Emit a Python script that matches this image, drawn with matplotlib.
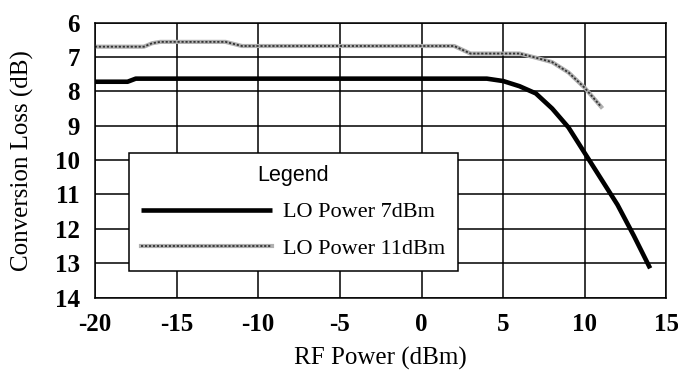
import matplotlib
matplotlib.use("Agg")
import matplotlib.pyplot as plt
from matplotlib.legend_handler import HandlerTuple

plt.rcParams["axes.unicode_minus"] = False

# Data
lo7_x = [-20, -18, -17.5, 4, 5, 6, 7, 8, 9, 10, 11, 12, 13, 14]
lo7_y = [7.72, 7.72, 7.63, 7.63, 7.70, 7.85, 8.06, 8.50, 9.05, 9.80, 10.55, 11.30, 12.20, 13.15]

lo11_x = [-20, -17, -16.5, -16, -12, -11, 2, 3, 6, 7, 8, 9, 10, 11]
lo11_y = [6.70, 6.70, 6.60, 6.56, 6.56, 6.68, 6.68, 6.90, 6.90, 7.02, 7.15, 7.45, 7.90, 8.45]

x_ticks = [-20, -15, -10, -5, 0, 5, 10, 15]
y_ticks = [6, 7, 8, 9, 10, 11, 12, 13, 14]

serif = "Liberation Serif"

fig = plt.figure(figsize=(6.78, 3.71), dpi=100)
ax = fig.add_axes([0.140, 0.198, 0.843, 0.741])

ax.set_xlim(-20, 15)
ax.set_ylim(14, 6)
ax.set_xticks(x_ticks)
ax.set_yticks(y_ticks)
ax.grid(True, color="black", linewidth=1.1)
ax.set_axisbelow(True)
for s in ax.spines.values():
    s.set_color("black")
    s.set_linewidth(1.1)
ax.tick_params(length=0, pad=11)
for lab in ax.get_xticklabels() + ax.get_yticklabels():
    lab.set_fontfamily(serif)
    lab.set_fontweight("bold")
    lab.set_fontsize(18)

l7, = ax.plot(lo7_x, lo7_y, color="black", linewidth=3.3, solid_capstyle="butt")
g_base, = ax.plot(lo11_x, lo11_y, color="#b0b0b0", linewidth=3.0)
g_over, = ax.plot(lo11_x, lo11_y, color="#333333", linewidth=1.3,
                  dashes=[1.2, 1.0])

ax.set_xlabel("RF Power (dBm)", fontfamily=serif, fontsize=18, labelpad=8)
ax.set_ylabel("Conversion Loss (dB)", fontfamily=serif, fontsize=18, labelpad=15)

leg = ax.legend([l7, (g_base, g_over)], ["LO Power 7dBm", "LO Power 11dBm"],
                handler_map={tuple: HandlerTuple(ndivide=1)},
                loc="upper left", bbox_to_anchor=(0.0595, 0.5255),
                borderaxespad=0, frameon=True, fancybox=False,
                framealpha=1, edgecolor="black",
                prop={"family": serif, "size": 16},
                title="Legend",
                title_fontproperties={"family": "Liberation Sans", "size": 15.5},
                handlelength=5.9, handletextpad=0.5, borderpad=0.55,
                labelspacing=0.7)
leg.get_frame().set_linewidth(1.1)

fig.savefig("out.png", dpi=100)
